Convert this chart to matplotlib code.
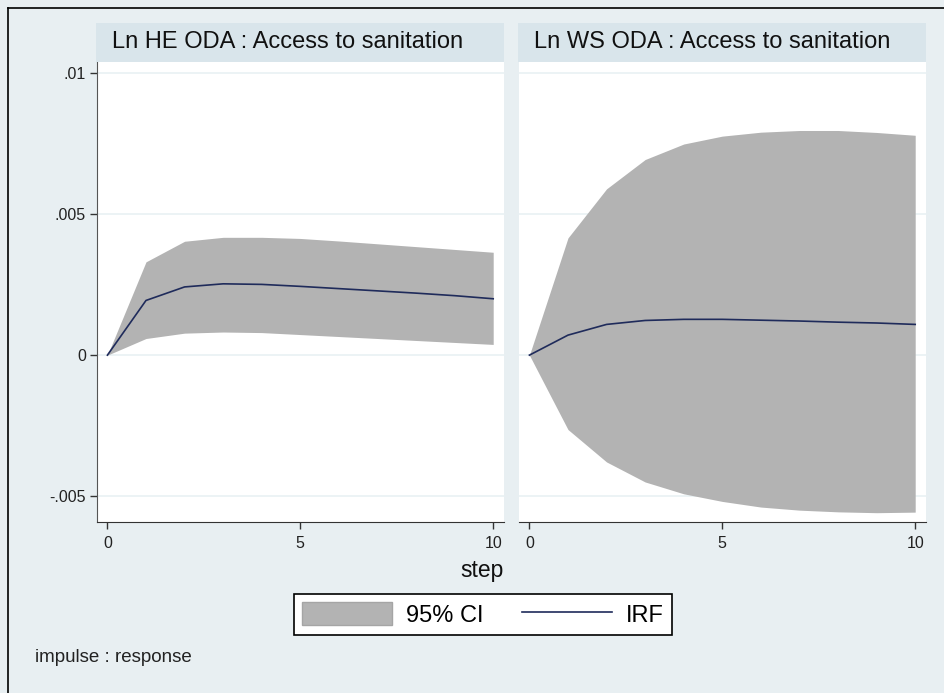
import matplotlib
matplotlib.use("Agg")
import matplotlib.pyplot as plt
from matplotlib.patches import Rectangle, Patch
from matplotlib.lines import Line2D

plt.rcParams['font.family'] = ['Liberation Sans', 'DejaVu Sans']

# impulse response results, steps 0..10
steps = [0, 1, 2, 3, 4, 5, 6, 7, 8, 9, 10]

he_irf = [0, 0.00194, 0.00242, 0.00253, 0.00251, 0.00244, 0.00236, 0.00228, 0.00220, 0.00211, 0.00200]
he_upper = [0, 0.00331, 0.00404, 0.00418, 0.00418, 0.00414, 0.00405, 0.00395, 0.00385, 0.00375, 0.00365]
he_lower = [0, 0.00059, 0.00078, 0.00082, 0.00080, 0.00073, 0.00066, 0.00059, 0.00052, 0.00045, 0.00038]

ws_irf = [0, 0.00071, 0.00109, 0.00123, 0.00127, 0.00127, 0.00124, 0.00121, 0.00117, 0.00114, 0.00109]
ws_upper = [0, 0.00416, 0.00590, 0.00694, 0.00749, 0.00777, 0.00791, 0.00797, 0.00797, 0.00790, 0.00780]
ws_lower = [0, -0.00264, -0.00379, -0.00450, -0.00492, -0.00519, -0.00539, -0.00550, -0.00556, -0.00559, -0.00557]

panel_titles = ["Ln HE ODA : Access to sanitation", "Ln WS ODA : Access to sanitation"]
yticks = [-0.005, 0, 0.005, 0.01]
ytick_labels = ["-.005", "0", ".005", ".01"]
xticks = [0, 5, 10]

W, H = 944, 693
bg = "#E8EFF2"
strip_col = "#D9E5EB"
grid_col = "#E9F1F3"
ci_col = "#B3B3B3"
irf_col = "#1F2B5B"

fig = plt.figure(figsize=(W / 100, H / 100), dpi=100)
fig.patch.set_facecolor(bg)

# frame on left/top edge
fig.add_artist(Line2D([8 / W, 8 / W], [0, 1 - 8 / H], transform=fig.transFigure, color="black", lw=1.2))
fig.add_artist(Line2D([8 / W, 1], [1 - 8 / H, 1 - 8 / H], transform=fig.transFigure, color="black", lw=1.2))

panels = [(97, he_irf, he_upper, he_lower), (519, ws_irf, ws_upper, ws_lower)]
ax_w = 407
ax_top, ax_bot = 62, 522

for i, (x0, irf, up, lo) in enumerate(panels):
    ax = fig.add_axes([x0 / W, 1 - ax_bot / H, ax_w / W, (ax_bot - ax_top) / H])
    ax.set_facecolor("white")
    ax.fill_between(steps, lo, up, color=ci_col, lw=0, zorder=2)
    ax.plot(steps, irf, color=irf_col, lw=1.2, zorder=3)
    ax.set_xlim(-0.27, 10.28)
    ax.set_ylim(-0.00592, 0.0104)
    for yv in yticks:
        ax.axhline(yv, color=grid_col, lw=1.2, zorder=1)
    ax.set_xticks(xticks)
    ax.set_xticklabels([str(t) for t in xticks], fontsize=11.5, color="#222222")
    ax.tick_params(axis="x", direction="out", length=5, width=1, color="#333333", pad=5)
    for s in ["top", "right"]:
        ax.spines[s].set_visible(False)
    ax.spines["bottom"].set_color("#333333")
    if i == 0:
        ax.set_yticks(yticks)
        ax.set_yticklabels(ytick_labels, fontsize=11.5, color="#222222")
        ax.tick_params(axis="y", direction="out", length=5, width=1, color="#333333", pad=3)
        ax.spines["left"].set_color("#555555")
    else:
        ax.set_yticks([])
        ax.spines["left"].set_visible(False)

    # panel title strip
    sx = x0 - 1
    fig.add_artist(Rectangle((sx / W, 1 - 62 / H), (ax_w + 1) / W, 39 / H,
                             transform=fig.transFigure, facecolor=strip_col, edgecolor="none"))
    fig.text((sx + 16) / W, 1 - 42 / H, panel_titles[i], fontsize=17, color="#111111",
             ha="left", va="center")

fig.text(482 / W, 1 - 571 / H, "step", fontsize=16.5, ha="center", va="center", color="#111111")
fig.text(35 / W, 1 - 658 / H, "impulse : response", fontsize=13.5, ha="left", va="center", color="#222222")

handles = [Patch(facecolor=ci_col, edgecolor="#A5A5A5"), Line2D([], [], color=irf_col, lw=1.2)]
leg = fig.legend(handles, ["95% CI", "IRF"], loc="center", bbox_to_anchor=(483 / W, 1 - 614.5 / H),
                 ncol=2, fontsize=17, frameon=True, fancybox=False, edgecolor="black",
                 facecolor="white", framealpha=1,
                 handlelength=3.8, handleheight=1.1, columnspacing=1.65, borderpad=0.35, handletextpad=0.6)
leg.get_frame().set_linewidth(1.2)

fig.savefig("out.png", dpi=100, facecolor=bg)
